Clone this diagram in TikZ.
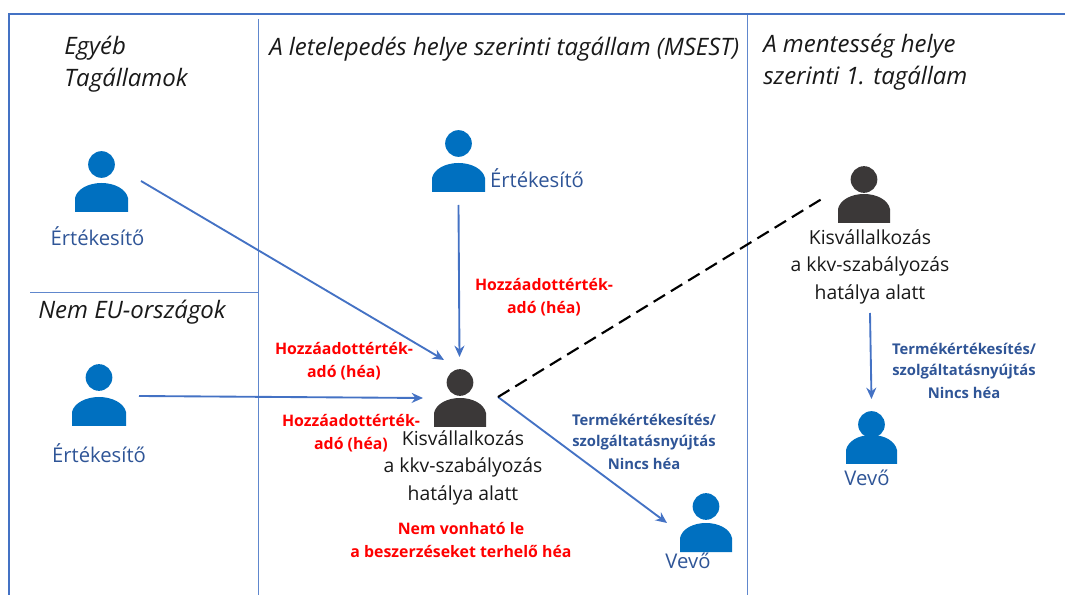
\documentclass[tikz,border=0pt]{standalone}
\usepackage{fontspec}
\setmainfont{Open Sans}
\usetikzlibrary{arrows.meta}
\definecolor{frameblue}{HTML}{4472C4}
\definecolor{iconblue}{HTML}{0070C0}
\definecolor{icondark}{HTML}{3B3838}
\definecolor{labelblue}{HTML}{2F5597}
\newcommand{\fs}[1]{\fontsize{#1}{#1}\selectfont}
\tikzset{
  x=0.75pt,y=-0.75pt,
  rule/.style={draw=frameblue!85,line width=0.75pt},
  frameline/.style={draw=frameblue,line width=1.5pt},
  conn/.style={draw=frameblue,line width=1.4pt,-{Stealth[length=8.5pt,width=7.5pt]}},
  dashconn/.style={draw=black,line width=1.6pt,dash pattern=on 10pt off 5.2pt},
  person/.style n args={3}{inner sep=0pt,minimum width=#2*0.75pt,minimum height=#3*0.75pt,
    path picture={
      \fill[#1] (0,{-#3/2+13.5}) circle (10pt);
      \fill[#1] ({-#2/2},{#3/2}) -- ({-#2/2},{#3/2-14})
        .. controls ({-#2/2+2},{#3/2-23}) and (-13,{#3/2-29}) .. (0,{#3/2-29})
        .. controls (13,{#3/2-29}) and ({#2/2-2},{#3/2-23}) .. ({#2/2},{#3/2-14})
        -- ({#2/2},{#3/2}) -- cycle;
    }},
  heading/.style={inner sep=0pt,anchor=west,align=left,font=\fs{18}\itshape,text=black!90},
  body/.style={inner sep=0pt,align=center,font=\fs{14.5},text=black!90},
  rolelabel/.style={inner sep=0pt,align=center,font=\fs{15.2},text=labelblue},
  redtxt/.style={inner sep=0pt,align=center,font=\fs{11.9}\bfseries,text=red},
  bluetxt/.style={inner sep=0pt,align=center,font=\fs{11.1}\bfseries,text=labelblue}
}
\begin{document}
\begin{tikzpicture}
\useasboundingbox (0,0) rectangle (1065,595);
% frame
\coordinate (fbl) at (8.5,595);
\coordinate (ftl) at (8.5,14.5);
\coordinate (ftr) at (1065,14.5);
\draw[frameline] (fbl) -- (ftl) -- (ftr);
\coordinate (c1t) at (258,19); \coordinate (c1b) at (258,595);
\coordinate (c2t) at (747,15); \coordinate (c2b) at (747,595);
\coordinate (hl) at (30,292.5); \coordinate (hr) at (258,292.5);
\draw[rule] (c1t) -- (c1b);
\draw[rule] (c2t) -- (c2b);
\draw[rule] (hl) -- (hr);
% headings
\node[heading] (h1) at (64,64.5) {Egyéb\\[5pt]Tagállamok};
\node[heading] (h2) at (269,49) {A letelepedés helye szerinti tagállam (MSEST)};
\node[heading] (h3) at (763,62.5) {A mentesség helye\\[5pt]szerinti 1. tagállam};
\node[heading] (h4) at (38,312) {Nem EU-országok};
% persons
\node[person={iconblue}{53}{61}] (s1) at (101.5,181.5) {};
\node[person={iconblue}{54}{62}] (s2) at (99,395) {};
\node[person={iconblue}{53}{62}] (s3) at (458.5,161) {};
\node[person={icondark}{52}{58}] (k1) at (460,398) {};
\node[person={iconblue}{52}{59}] (v1) at (706,522.5) {};
\node[person={icondark}{52}{57}] (k2) at (864,194.5) {};
\node[person={iconblue}{51}{53}] (v2) at (871.5,437.5) {};
% role labels
\node[rolelabel] (l1) at (97.5,236) {Értékesítő};
\node[rolelabel] (l2) at (99,453) {Értékesítő};
\node[rolelabel] (l3) at (537,178) {Értékesítő};
\node[rolelabel] (l4) at (688,561) {Vevő};
\node[rolelabel] (l5) at (867,478) {Vevő};
% black bodies
\node[body] (b1) at (463,468) {Kisvállalkozás\\[5.5pt]a kkv-szabályozás\\[5.5pt]hatálya alatt};
\node[body] (b2) at (870,267) {Kisvállalkozás\\[5.5pt]a kkv-szabályozás\\[5.5pt]hatálya alatt};
% red labels
\node[redtxt] (r1) at (544,297) {Hozzáadottérték-\\[5pt]adó (héa)};
\node[redtxt] (r2) at (344,361) {Hozzáadottérték-\\[5pt]adó (héa)};
\node[redtxt] (r3) at (351,433) {Hozzáadottérték-\\[5pt]adó (héa)};
\node[redtxt] (r4) at (461,540) {Nem vonható le\\[5pt]a beszerzéseket terhelő héa};
% blue labels
\node[bluetxt] (t1) at (644,442) {Termékértékesítés/\\[5pt]szolgáltatásnyújtás\\[5pt]Nincs héa};
\node[bluetxt] (t2) at (964,371) {Termékértékesítés/\\[5pt]szolgáltatásnyújtás\\[5pt]Nincs héa};
% connectors
\draw[conn] ([shift={(39.5,-0.5)}]s1.center) -- ([shift={(-16,-38)}]k1.center);
\draw[conn] ([shift={(40,1)}]s2.center) -- ([shift={(-37,0)}]k1.center);
\draw[conn] ([shift={(0,44)}]s3.center) -- ([shift={(-0.5,-41)}]k1.center);
\draw[conn] ([shift={(38,-1)}]k1.center) -- ([shift={(-39,0.5)}]v1.center);
\draw[conn] ([shift={(6,118.5)}]k2.center) -- ([shift={(0,-38.5)}]v2.center);
\draw[dashconn] ([shift={(38,-1)}]k1.center) -- ([shift={(-39,2.5)}]k2.center);
\end{tikzpicture}
\end{document}
